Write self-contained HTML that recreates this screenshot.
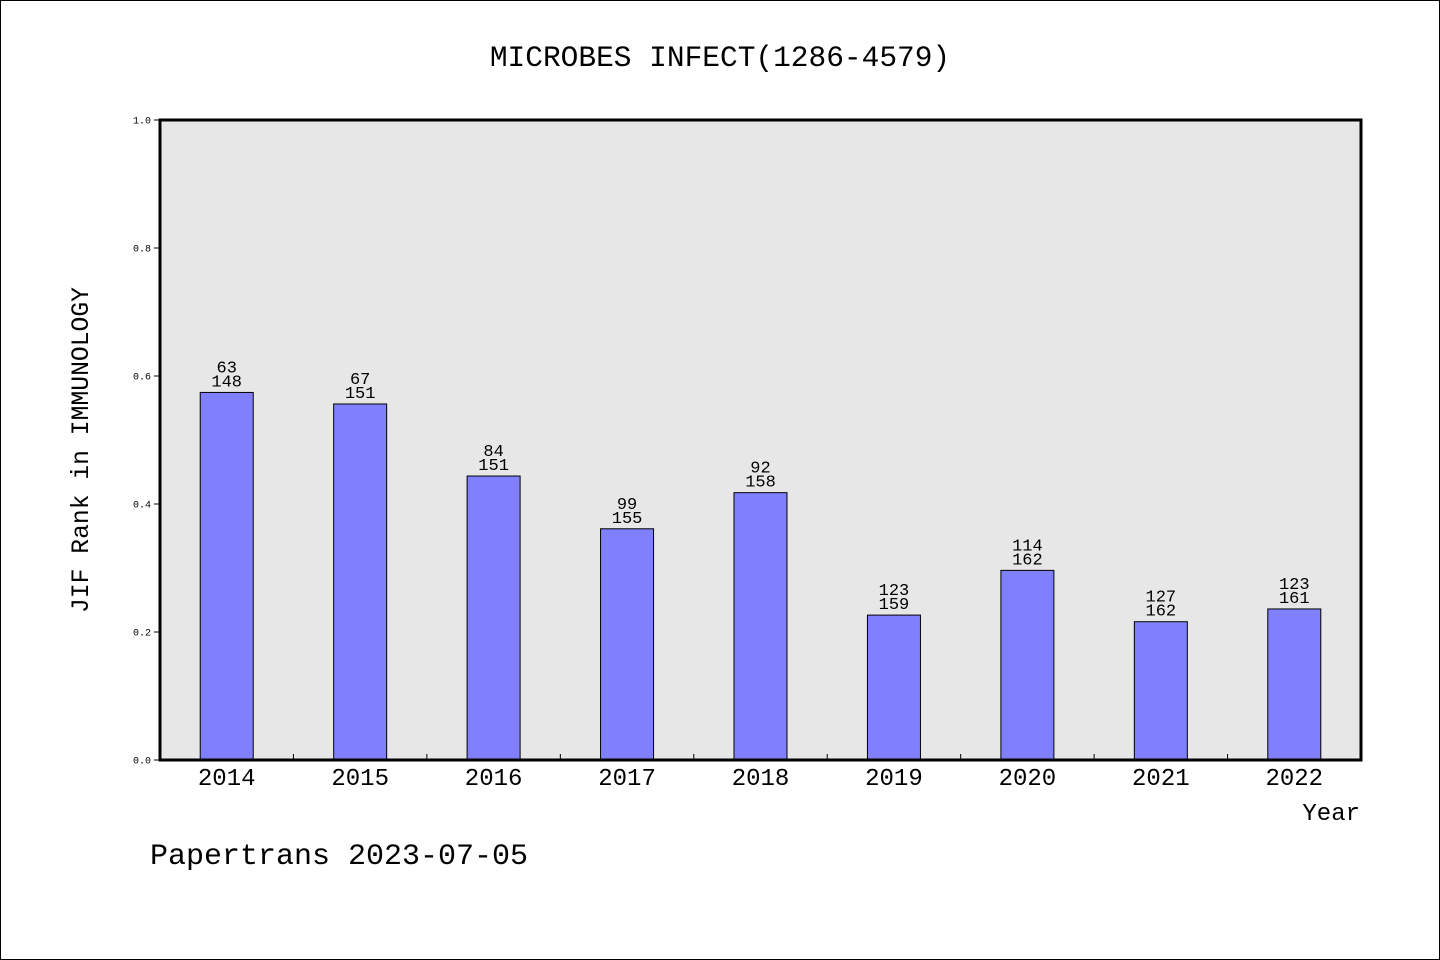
<!DOCTYPE html>
<html><head><meta charset="utf-8"><style>
html,body{margin:0;padding:0;background:#fff}
svg{display:block}
text{font-family:"Liberation Mono","WenQuanYi Zen Hei",monospace;fill:#000}
</style></head><body>
<svg id="chart" width="1440" height="960" viewBox="0 0 1440 960">
<rect x="0.5" y="0.5" width="1439" height="959" fill="#fff" stroke="#000"/>
<text x="720" y="66" text-anchor="middle" font-size="29.5">MICROBES INFECT(1286-4579)</text>
<rect x="160" y="120" width="1201" height="640" fill="#e7e7e7"/>
<g id="bars"></g>
<rect x="160" y="120" width="1201" height="640" fill="none" stroke="#000" stroke-width="3"/>
<g id="axes"></g>
<text x="1360" y="820" text-anchor="end" font-size="24">Year</text>
<text transform="translate(88,450) rotate(-90)" text-anchor="middle" font-size="24.7">JIF Rank in IMMUNOLOGY</text>
<text x="150" y="864" font-size="30">Papertrans 2023-07-05</text>
</svg>
<script>
const years = ["2014","2015","2016","2017","2018","2019","2020","2021","2022"];
const ranks = [63,67,84,99,92,123,114,127,123];
const totals = [148,151,151,155,158,159,162,162,161];
const yTicks = [0,0.2,0.4,0.6,0.8,1.0];
const NS="http://www.w3.org/2000/svg";
const X0=160,X1=1361,Y0=760,Y1=120;
const band=(X1-X0)/years.length;
const xc=i=>X0+band*(i+0.5);
const y=v=>Y0-(Y0-Y1)*v;
function mk(tag,attrs,parent,txt){const e=document.createElementNS(NS,tag);for(const k in attrs)e.setAttribute(k,attrs[k]);if(txt!==undefined)e.textContent=txt;parent.appendChild(e);return e;}
const bars=document.getElementById('bars'),axes=document.getElementById('axes');
years.forEach((yr,i)=>{
  const v=1-ranks[i]/totals[i];
  const r=mk('rect',{x:xc(i)-26.5,y:y(v),width:53,height:Y0-y(v),fill:'#8080ff',stroke:'#000','stroke-width':1},bars);
  
  
  const t1=mk('text',{x:xc(i),y:y(v)-20,'text-anchor':'middle','font-size':17},bars,String(ranks[i]));
  
  
  const t2=mk('text',{x:xc(i),y:y(v)-6,'text-anchor':'middle','font-size':17},bars,String(totals[i]));
  
  
  const xl=mk('text',{x:xc(i),y:785,'text-anchor':'middle','font-size':24},axes,yr);
  
  
  if(i>0){
    const tk=mk('line',{x1:X0+band*i,x2:X0+band*i,y1:Y0,y2:Y0-6,stroke:'#000'},axes);
    
    
  }
});
yTicks.forEach(v=>{
  const tk=mk('line',{x1:X0-6,x2:X0,y1:y(v),y2:y(v),stroke:'#000'},axes);
  
  
  const tl=mk('text',{x:151,y:y(v)+3.5,'text-anchor':'end','font-size':10},axes,v.toFixed(1));
  
  
});
</script>
</body></html>
